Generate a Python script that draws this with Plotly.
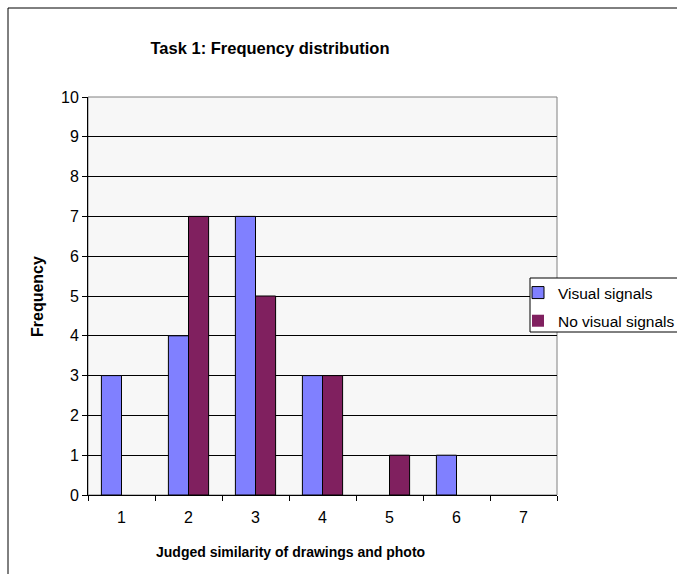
import plotly.graph_objects as go

categories = ["1", "2", "3", "4", "5", "6", "7"]
visual_signals = [3, 4, 7, 3, 0, 1, 0]
no_visual_signals = [0, 7, 5, 3, 1, 0, 0]
y_ticks = list(range(0, 11))

FONT = "Arial, Liberation Sans, sans-serif"
W, H = 677, 574
L, R, T, B = 88, 557, 97, 495

def px(x):
    return (x - L) / (R - L)

def py(y):
    return (B - y) / (B - T)

fig = go.Figure()
fig.add_trace(go.Bar(x=categories, y=visual_signals, name="Visual signals", legendgroup="a",
                     marker=dict(color="#8080FF",
                                 line=dict(color="#000000",
                                           width=[1 if v else 0 for v in visual_signals]))))
fig.add_trace(go.Bar(x=categories, y=no_visual_signals, name="No visual signals", legendgroup="b",
                     marker=dict(color="#80205F",
                                 line=dict(color="#000000",
                                           width=[1 if v else 0 for v in no_visual_signals]))))

fig.update_layout(
    width=W, height=H,
    margin=dict(l=L, r=W - R, t=T, b=H - B, autoexpand=False),
    paper_bgcolor="white",
    plot_bgcolor="#F7F7F7",
    barmode="group",
    bargap=0.4,
    bargroupgap=0,
    font=dict(family=FONT, size=16, color="black"),
    title=dict(text="<b>Task 1: Frequency distribution</b>", x=270 / W, xanchor="center",
               y=1 - 48 / H, yanchor="middle", xref="container", yref="container",
               font=dict(family=FONT, size=16.5, color="black")),
    legend=dict(x=px(518), y=py(276), xanchor="left", yanchor="top",
                borderwidth=0, bgcolor="rgba(0,0,0,0)",
                font=dict(family=FONT, size=15.5, color="black"),
                traceorder="grouped", tracegroupgap=5, itemwidth=30),
    xaxis=dict(type="category", range=[-0.5, 6.5], tickson="boundaries",
               ticks="outside", ticklen=5, tickcolor="black", tickwidth=1,
               showline=True, linecolor="black", linewidth=1, showgrid=False,
               tickfont=dict(family=FONT, size=16), ticklabelstandoff=8,
               zeroline=False),
    yaxis=dict(range=[0, 10], tickvals=y_ticks, ticks="outside", ticklen=5,
               tickcolor="black", tickwidth=1, showline=True, linecolor="black",
               linewidth=1, showgrid=True, gridcolor="black", gridwidth=1,
               zeroline=False, tickfont=dict(family=FONT, size=16)),
    showlegend=True,
)

# plot area border (gray), outer chart border, legend box
fig.add_shape(type="rect", xref="paper", yref="paper", x0=0, y0=0, x1=1, y1=1,
              line=dict(color="#808080", width=1), layer="below")
fig.add_shape(type="rect", xref="paper", yref="paper", x0=px(8), y0=py(8),
              x1=px(720), y1=py(620), line=dict(color="black", width=1), layer="below")
fig.add_shape(type="rect", xref="paper", yref="paper", x0=px(530), y0=py(278),
              x1=px(720), y1=py(332), line=dict(color="black", width=1),
              fillcolor="white", layer="above")

fig.add_annotation(text="<b>Judged similarity of drawings and photo</b>", xref="paper", yref="paper",
                   x=px(290), y=py(552), xanchor="center", yanchor="middle", showarrow=False,
                   font=dict(family=FONT, size=14, color="black"))
fig.add_annotation(text="<b>Frequency</b>", xref="paper", yref="paper",
                   x=px(37), y=py(297), xanchor="center", yanchor="middle", showarrow=False,
                   textangle=-90, font=dict(family=FONT, size=16, color="black"))

fig.write_html("out.html")
